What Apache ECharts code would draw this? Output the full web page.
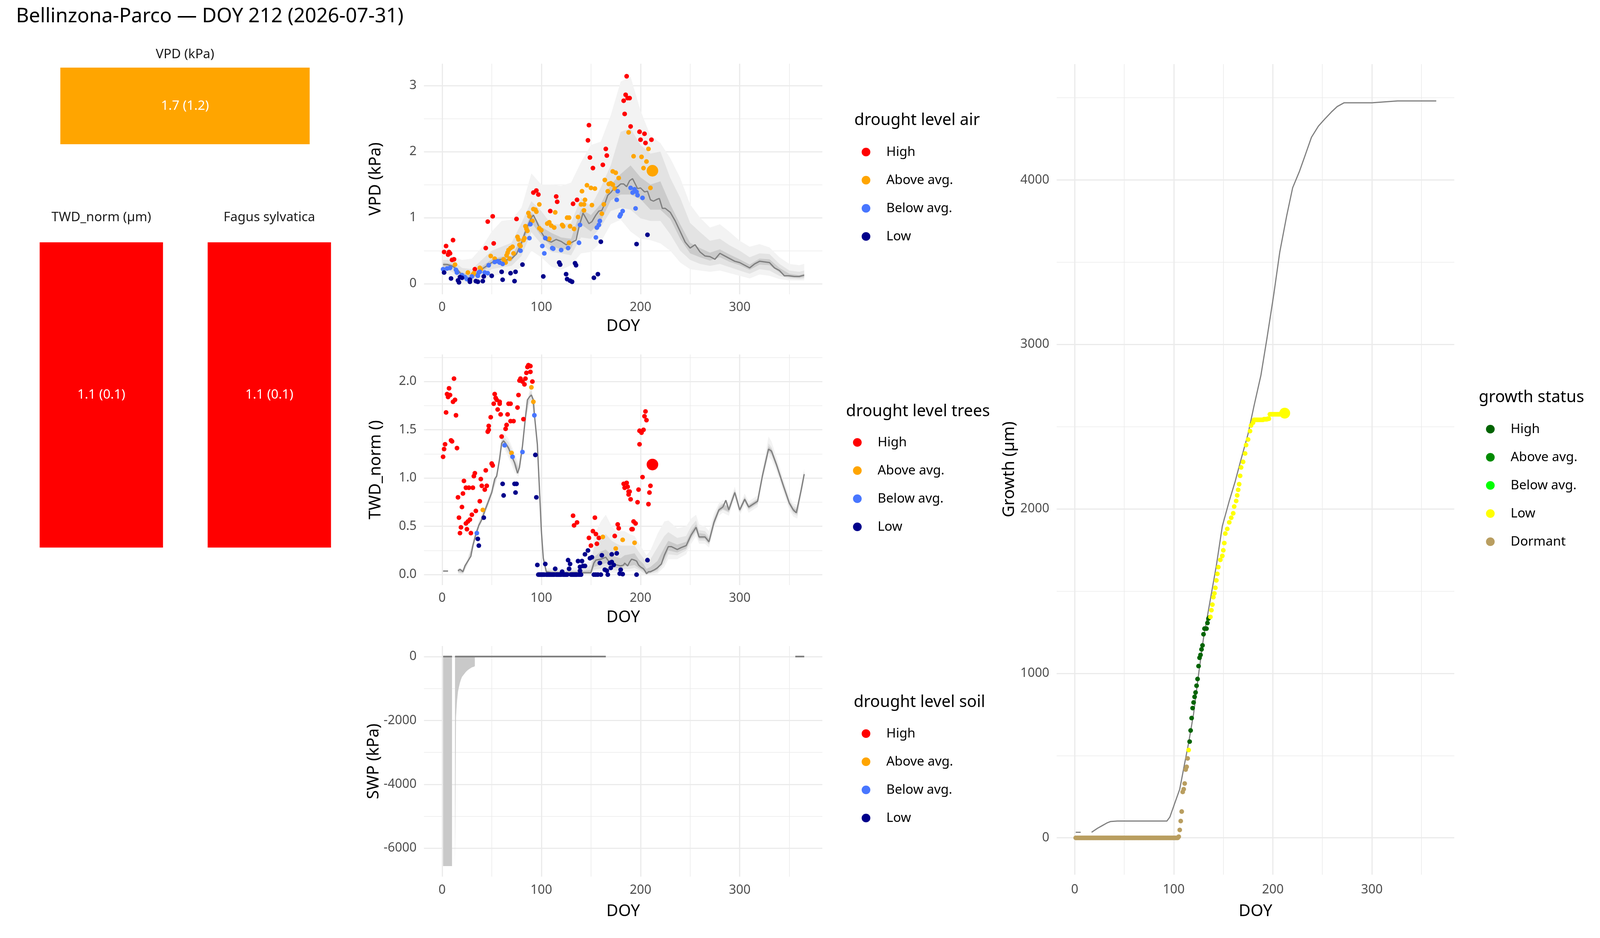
<!DOCTYPE html>
<html>
<head>
<meta charset="utf-8">
<title>Bellinzona-Parco drought monitor</title>
<script src="https://cdn.jsdelivr.net/npm/echarts@6.0.0/dist/echarts.min.js"></script>
<style>
html, body { margin: 0; padding: 0; background: #fff; overflow: hidden; }
#main { width: 100vw; height: 100vh; }
</style>
</head>
<body>
<div id="main"></div>
<script>
// ---------------- data ----------------
var mainTitle = 'Bellinzona-Parco \u2014 DOY 212 (2026-07-31)';

var levelNames = ['High', 'Above avg.', 'Below avg.', 'Low'];
var levelColors = ['#FF0000', '#FFA500', '#4876FF', '#00008B'];
var growthNames = ['High', 'Above avg.', 'Below avg.', 'Low', 'Dormant'];
var growthColors = ['#006400', '#008B00', '#00FF00', '#FFFF00', '#B99E60'];

// summary tiles (left)
var tileTitles = ['VPD (kPa)', 'TWD_norm (\u00b5m)', 'Fagus sylvatica'];
var tileTexts = ['1.7 (1.2)', '1.1 (0.1)', '1.1 (0.1)'];
var tileLevels = ['Above avg.', 'High', 'High'];

// VPD climatology: median line
var vpdLineDoy = [1,5,10,15,20,25,30,35,40,45,50,55,60,65,70,75,80,85,90,92,95,100,105,110,115,120,125,130,135,138,142,145,148,151,155,158,161,164,167,170,173,177,180,183,186,189,192,195,197,200,204,207,210,213,217,219,222,225,230,235,240,245,250,255,260,265,270,275,280,285,290,295,300,305,310,315,320,325,330,335,340,345,350,355,360,365];
var vpdLineVal = [0.29,0.29,0.27,0.22,0.13,0.08,0.10,0.15,0.22,0.27,0.32,0.36,0.37,0.36,0.38,0.45,0.62,0.83,1.00,1.04,0.95,0.78,0.66,0.63,0.67,0.64,0.59,0.62,0.66,0.86,1.07,0.99,0.91,0.94,1.04,1.10,1.11,1.21,1.34,1.38,1.44,1.47,1.51,1.51,1.47,1.56,1.59,1.50,1.44,1.45,1.39,1.40,1.27,1.25,1.28,1.29,1.14,1.14,1.08,0.95,0.79,0.63,0.54,0.59,0.48,0.42,0.41,0.37,0.46,0.42,0.38,0.34,0.32,0.28,0.24,0.30,0.34,0.33,0.32,0.24,0.20,0.12,0.12,0.11,0.11,0.13];

// VPD climatology: quantile bands
var vpdBandDoy = [1,10,20,30,40,50,60,70,80,90,100,110,120,130,140,150,160,170,180,190,200,210,220,230,240,250,260,270,280,290,300,310,320,330,340,350,360,365];
var vpdOuterLo = [0.16,0.12,0.01,0.00,0.03,0.12,0.14,0.17,0.25,0.50,0.40,0.26,0.21,0.28,0.46,0.48,0.63,0.90,0.97,0.79,0.68,0.66,0.61,0.50,0.32,0.22,0.20,0.18,0.20,0.16,0.12,0.08,0.14,0.12,0.07,0.05,0.05,0.05];
var vpdOuterHi = [0.42,0.42,0.36,0.38,0.55,0.79,0.95,0.97,1.15,1.67,1.50,1.50,1.48,1.53,1.84,2.10,2.15,2.55,3.06,3.13,2.62,2.24,2.13,1.90,1.60,1.20,1.00,0.85,0.90,0.78,0.65,0.56,0.60,0.55,0.40,0.30,0.28,0.30];
var vpdMidLo = [0.22,0.18,0.05,0.03,0.10,0.22,0.25,0.27,0.42,0.78,0.60,0.48,0.46,0.43,0.70,0.68,0.86,1.10,1.15,1.12,0.99,0.95,0.95,0.75,0.50,0.36,0.30,0.27,0.30,0.25,0.20,0.15,0.22,0.20,0.12,0.08,0.07,0.08];
var vpdMidHi = [0.36,0.36,0.24,0.22,0.36,0.50,0.56,0.62,0.92,1.25,1.10,0.90,0.90,0.92,1.30,1.17,1.46,1.79,2.30,2.35,2.10,1.97,2.00,1.60,1.30,0.92,0.78,0.65,0.68,0.58,0.50,0.40,0.46,0.45,0.30,0.20,0.18,0.20];
var vpdInnerLo = [0.26,0.24,0.10,0.07,0.18,0.29,0.33,0.34,0.56,0.93,0.72,0.57,0.52,0.53,0.90,0.79,0.95,1.26,1.35,1.35,1.28,1.12,1.12,0.98,0.68,0.46,0.40,0.35,0.40,0.33,0.28,0.21,0.29,0.28,0.17,0.10,0.09,0.10];
var vpdInnerHi = [0.32,0.30,0.17,0.14,0.26,0.37,0.41,0.42,0.68,1.08,0.86,0.77,0.70,0.68,1.13,1.04,1.21,1.50,1.66,1.79,1.61,1.50,1.55,1.20,0.90,0.62,0.54,0.47,0.52,0.44,0.37,0.29,0.38,0.37,0.24,0.15,0.13,0.15];

// VPD observations this year, [DOY, kPa] per drought level
var vpdHigh = [[2,0.48],[4,0.57],[6,0.44],[7,0.48],[8,0.46],[10,0.36],[11,0.66],[12,0.37],[33,0.22],[44,0.54],[46,0.94],[51,1.02],[52,0.61],[75,0.98],[92,1.38],[95,1.41],[97,1.35],[109,1.10],[115,1.32],[116,1.24],[132,1.21],[136,1.27],[147,2.17],[148,2.40],[149,1.91],[152,1.75],[162,1.80],[165,2.04],[166,1.94],[183,2.77],[184,2.57],[185,2.86],[186,3.14],[187,2.81],[189,2.81],[190,2.38],[199,2.30],[200,2.18],[204,2.27],[205,2.13],[211,2.18]];
var vpdAbove = [[13,0.29],[26,0.17],[31,0.14],[32,0.16],[38,0.24],[39,0.22],[49,0.42],[53,0.38],[62,0.37],[63,0.34],[64,0.32],[65,0.43],[66,0.47],[67,0.51],[68,0.38],[69,0.54],[71,0.56],[72,0.46],[76,0.71],[77,0.67],[78,0.59],[79,0.57],[82,0.66],[83,0.69],[84,0.87],[85,0.83],[86,0.80],[87,1.07],[88,1.02],[91,0.95],[92,1.13],[94,1.12],[95,1.09],[98,1.20],[98,0.84],[100,0.81],[106,0.91],[108,0.93],[108,0.68],[110,0.88],[113,0.85],[114,1.08],[121,0.89],[122,0.87],[126,1.00],[128,1.00],[129,0.87],[133,0.83],[128,0.62],[137,1.01],[140,1.20],[141,1.40],[143,1.20],[143,1.11],[144,1.27],[146,1.49],[150,1.45],[151,1.19],[154,1.44],[161,1.06],[163,1.20],[164,1.57],[167,1.40],[168,1.51],[170,1.52],[172,1.50],[172,1.70],[174,1.44],[175,1.68],[178,1.60],[188,2.29],[193,1.93],[201,1.92],[203,1.75],[206,1.85],[208,2.04],[210,1.45]];
var vpdBelow = [[1,0.22],[5,0.23],[8,0.24],[14,0.21],[15,0.17],[20,0.13],[23,0.10],[25,0.07],[30,0.11],[36,0.12],[37,0.17],[38,0.18],[43,0.17],[46,0.16],[47,0.28],[53,0.33],[56,0.34],[58,0.32],[61,0.30],[79,0.50],[88,0.69],[89,0.90],[101,0.57],[103,0.46],[104,0.69],[111,0.54],[112,0.53],[120,0.51],[127,0.54],[138,0.62],[139,0.89],[155,0.70],[156,0.85],[158,0.89],[159,0.95],[176,1.27],[177,1.40],[179,1.02],[180,1.05],[182,1.10],[190,1.45],[192,1.38],[194,1.43],[195,1.14],[196,1.39],[197,1.34],[202,1.30]];
var vpdLow = [[2,0.17],[9,0.08],[16,0.05],[17,0.02],[18,0.10],[20,0.09],[28,0.03],[28,0.06],[34,0.04],[36,0.03],[41,0.04],[42,0.11],[50,0.12],[60,0.18],[61,0.06],[69,0.16],[73,0.04],[74,0.18],[81,0.29],[102,0.11],[118,0.32],[119,0.29],[125,0.145],[126,0.07],[129,0.045],[131,0.03],[134,0.31],[135,0.28],[153,0.09],[157,0.145],[160,0.635],[196,0.60],[207,0.74]];
var vpdToday = [[212,1.71]];

// TWD_norm climatology: median line (null = no data)
var twdLineDoy = [1,6,10,16,18,21,23,26,29,31,34,37,40,43,46,50,53,55,58,60,62,64,67,70,73,76,78,81,84,86,88,90,92,93,96,98,100,102,105,110,120,130,140,150,153,155,160,165,167,171,176,180,183,184,187,189,191,194,196,198,200,203,205,206,208,210,214,217,221,224,228,231,237,241,246,251,256,259,265,269,274,279,283,286,289,295,300,305,309,312,318,323,329,332,337,344,350,354,357,362,365];
var twdLineVal = [0.037,0.037,null,0.04,0.055,0.03,0.09,0.14,0.19,0.30,0.42,0.51,0.57,0.66,0.74,0.85,0.99,1.02,1.20,1.36,1.385,1.36,1.31,1.23,1.16,1.05,1.11,1.33,1.63,1.81,1.84,1.86,1.81,1.66,1.35,0.91,0.46,0.17,0.03,0.02,0.02,0.02,0.02,0.02,0.12,0.15,0.16,0.18,0.15,0.11,0.10,0.09,0.10,0.12,0.09,0.13,0.16,0.15,0.14,0.10,0.08,0.06,0.03,0.01,0.03,0.03,0.05,0.07,0.11,0.20,0.29,0.29,0.26,0.28,0.30,0.41,0.49,0.39,0.39,0.34,0.54,0.67,0.70,0.77,0.67,0.85,0.67,0.78,0.70,0.72,0.76,1.03,1.30,1.28,1.14,0.92,0.74,0.67,0.64,0.88,1.04];

// TWD_norm climatology: quantile bands
var twdBandDoy = [16,21,26,31,37,43,50,55,60,62,67,73,77,81,84,88,90,93,96,98,100,102,105,120,140,150,153,160,165,171,176,180,184,189,194,198,203,206,210,217,224,228,237,246,251,256,259,265,269,274,279,283,289,295,300,305,309,318,323,329,332,337,344,350,354,358,362,365];
var twdOuterLo = [.01,0,.10,.25,.46,.61,.80,.97,1.29,1.31,1.21,1.06,1.01,1.27,1.57,1.77,1.78,1.59,1.29,.86,.41,.13,0,0,0,0,.02,.02,.03,.02,.02,.02,.03,.03,.04,.02,0,0,0,.01,.08,.16,.16,.21,.32,.40,.32,.32,.28,.47,.61,.64,.61,.79,.61,.72,.64,.70,.97,1.22,1.19,1.07,.85,.67,.60,.58,.82,.98];
var twdOuterHi = [.07,.06,.18,.35,.56,.71,.90,1.07,1.43,1.47,1.41,1.26,1.15,1.39,1.69,1.91,1.95,1.73,1.41,.96,.51,.21,.07,.06,.08,.16,.40,.55,.62,.50,.44,.45,.45,.42,.40,.33,.25,.20,.25,.42,.55,.56,.48,.50,.58,.62,.52,.50,.45,.63,.74,.77,.74,.91,.73,.84,.76,.82,1.09,1.43,1.38,1.22,.99,.81,.74,.72,.94,1.10];
var twdMidLo = [.02,.01,.12,.27,.48,.63,.82,.99,1.32,1.34,1.25,1.10,1.04,1.30,1.60,1.80,1.81,1.62,1.32,.88,.43,.15,.01,.01,.005,.005,.05,.06,.07,.05,.04,.04,.06,.06,.07,.05,.02,0,.01,.03,.12,.21,.20,.25,.36,.44,.35,.35,.31,.50,.64,.67,.64,.82,.64,.75,.67,.73,1.00,1.26,1.23,1.10,.88,.70,.63,.61,.85,1.01];
var twdMidHi = [.06,.05,.16,.33,.54,.69,.88,1.05,1.40,1.43,1.37,1.22,1.12,1.36,1.66,1.88,1.91,1.70,1.38,.94,.49,.19,.05,.04,.05,.10,.28,.38,.42,.35,.32,.30,.30,.30,.30,.24,.17,.12,.16,.28,.40,.44,.38,.40,.50,.56,.46,.45,.40,.59,.71,.74,.71,.88,.70,.81,.73,.79,1.06,1.36,1.32,1.18,.96,.78,.71,.69,.91,1.07];
var twdInnerLo = [.03,.02,.13,.29,.50,.65,.84,1.01,1.34,1.37,1.29,1.14,1.06,1.32,1.62,1.83,1.85,1.65,1.34,.90,.45,.16,.02,.015,.01,.01,.08,.10,.12,.08,.07,.06,.09,.09,.10,.07,.04,.005,.02,.05,.16,.25,.23,.27,.38,.46,.37,.37,.32,.52,.65,.68,.65,.83,.65,.76,.68,.74,1.01,1.28,1.25,1.12,.90,.72,.65,.63,.86,1.02];
var twdInnerHi = [.05,.04,.15,.31,.52,.67,.86,1.03,1.38,1.40,1.33,1.18,1.10,1.34,1.64,1.85,1.88,1.67,1.36,.92,.47,.18,.04,.03,.035,.05,.18,.24,.26,.20,.18,.17,.20,.21,.22,.16,.11,.06,.08,.14,.28,.35,.31,.34,.45,.52,.43,.42,.37,.57,.69,.73,.70,.87,.69,.80,.72,.78,1.05,1.33,1.30,1.16,.94,.76,.69,.67,.90,1.06];

// TWD_norm observations this year, [DOY, value] per drought level
var twdHigh = [[1,1.22],[2,1.30],[3,1.35],[4,1.68],[5,1.87],[6,1.84],[7,1.93],[8,1.86],[9,1.39],[10,1.38],[11,1.79],[12,2.03],[13,1.81],[14,1.65],[15,1.31],[16,0.80],[17,0.59],[18,0.43],[19,0.49],[20,0.70],[21,0.84],[22,0.97],[24,0.90],[24,0.53],[25,0.47],[26,0.55],[27,0.90],[28,0.57],[29,0.43],[30,0.62],[31,0.90],[32,1.02],[33,1.05],[34,0.66],[38,0.76],[39,0.99],[40,0.92],[43,0.88],[44,1.08],[45,0.92],[46,1.48],[47,1.54],[47,1.50],[49,1.63],[50,1.15],[51,1.13],[52,1.77],[53,1.87],[54,1.83],[55,1.81],[56,1.71],[58,1.79],[58,1.77],[59,1.66],[60,1.43],[64,1.51],[65,1.55],[66,1.66],[67,1.77],[69,1.77],[69,1.59],[72,1.59],[76,1.73],[77,1.86],[78,2.01],[79,2.03],[81,2.00],[82,1.61],[83,1.97],[84,2.03],[85,2.09],[86,2.15],[87,2.17],[89,2.16],[89,2.10],[91,2.00],[132,0.61],[133,0.51],[136,0.54],[148,0.38],[150,0.30],[152,0.45],[154,0.59],[155,0.42],[156,0.32],[158,0.38],[174,0.40],[177,0.52],[178,0.48],[183,0.94],[184,0.90],[186,0.95],[187,0.91],[188,0.83],[188,0.86],[189,0.86],[190,0.78],[191,0.47],[192,0.47],[193,0.55],[195,0.53],[197,0.75],[198,0.88],[199,1.35],[199,1.49],[201,1.47],[202,1.01],[203,1.50],[204,1.64],[205,1.69],[206,1.60],[208,0.73],[209,0.85],[210,0.92]];
var twdAbove = [[41,0.67],[70,1.26],[90,1.94],[92,1.79],[162,0.39],[175,0.27],[182,0.36],[194,0.33]];
var twdBelow = [[35,0.43],[63,1.34],[71,1.22],[81,1.27],[93,1.65]];
var twdLow = [[36,0.37],[37,0.30],[42,0.59],[61,0.94],[62,0.82],[73,0.94],[74,0.85],[75,0.94],[94,1.24],[95,0.80],[96,0.10],
  [97,0],[98,0],[99,0],[100,0],[101,0],[102,0],[103,0],[104,0.11],[105,0],[106,0],[107,0],[108,0],[109,0],[110,0],[111,0],[112,0],[113,0],[114,0.06],[115,0],[116,0],[117,0],[118,0],[119,0],[120,0],
  [121,0.03],[122,0],[123,0],[124,0],[125,0],[126,0],[127,0.15],[128,0.06],[129,0.11],[130,0],[131,0],[132,0],[133,0],[134,0],[135,0],[136,0],[137,0.14],[138,0],[139,0.04],[139,0.08],[140,0],
  [141,0.14],[142,0.09],[144,0.09],[144,0.21],[147,0.25],[149,0.17],[151,0.18],[153,0],[155,0],[157,0],[159,0.12],[160,0],[161,0.20],[164,0.05],[166,0.04],[167,0],[169,0.12],[170,0.07],[171,0.13],[171,0.21],[173,0.10],[176,0.22],[179,0.01],[180,0.05],[182,0.005],[196,0],[207,0.15]];
var twdToday = [[212,1.14]];

// SWP: band (down from 0) and median line
var swpAreaDoy = [1,10,11,13,14,15,16,17,18,19,20,22,24,26,28,30,32,33];
var swpAreaVal = [-6560,-6560,null,-6500,-1900,-1400,-1100,-950,-820,-720,-640,-560,-480,-420,-380,-340,-320,-300];
var swpLineDoy = [1,10,11,13,165,200,356,365];
var swpLineVal = [0,0,null,0,0,null,0,0];

// Growth: climatology line and this year's cumulative growth
var growthLineDoy = [1,6,10,17,23,28,33,36,43,93,96,101,106,110,115,120,125,130,136,143,149,156,162,168,175,181,188,194,201,207,214,220,227,233,239,246,252,259,265,272,278,300,326,365];
var growthLineVal = [34,34,null,34,58,75,92,99,102,102,126,211,296,422,578,755,993,1214,1418,1656,1895,2048,2167,2303,2456,2626,2813,3034,3306,3561,3782,3952,4054,4156,4259,4327,4367,4412,4446,4469,4469,4469,4480,4480];
var growthDormant = [[1,0],[2,0],[3,0],[4,0],[5,0],[6,0],[7,0],[8,0],[9,0],[10,0],[11,0],[12,0],[13,0],[14,0],[15,0],[16,0],[17,0],[18,0],[19,0],[20,0],
  [21,0],[22,0],[23,0],[24,0],[25,0],[26,0],[27,0],[28,0],[29,0],[30,0],[31,0],[32,0],[33,0],[34,0],[35,0],[36,0],[37,0],[38,0],[39,0],[40,0],
  [41,0],[42,0],[43,0],[44,0],[45,0],[46,0],[47,0],[48,0],[49,0],[50,0],[51,0],[52,0],[53,0],[54,0],[55,0],[56,0],[57,0],[58,0],[59,0],[60,0],
  [61,0],[62,0],[63,0],[64,0],[65,0],[66,0],[67,0],[68,0],[69,0],[70,0],[71,0],[72,0],[73,0],[74,0],[75,0],[76,0],[77,0],[78,0],[79,0],[80,0],
  [81,0],[82,0],[83,0],[84,0],[85,0],[86,0],[87,0],[88,0],[89,0],[90,0],[91,0],[92,0],[93,0],[94,0],[95,0],[96,0],[97,0],[98,0],[99,0],[100,0],
  [101,0],[102,0],[103,0],[104,0],[105,7],[106,48],[107,102],[108,160],[109,279],[110,296],[111,330],[112,415],[113,432],[114,483]];
var growthHigh = [[116,585],[117,653],[118,728],[119,789],[120,823],[121,857],[122,884],[123,925],[124,966],[125,1044],[126,1095],[127,1112],[128,1146],[129,1170],[130,1238],[131,1272],[133,1272],[134,1306],[135,1333],[136,1340]];
var growthLow = [[115,534],[137,1343],[138,1384],[139,1418],[140,1463],[141,1486],[142,1520],[143,1565],[144,1605],[145,1646],[147,1690],[149,1714],[150,1748],[151,1792],[152,1850],[154,1878],[156,1918],[158,1946],[160,1973],[161,2014],[163,2048],[164,2082],[165,2116],[166,2150],[167,2201],[168,2252],[170,2286],[172,2337],[173,2388],[175,2422],[177,2473],[178,2507],[180,2524],[181,2541],[182,2541],[183,2541],[184,2541],[185,2541],[186,2541],[187,2541],[188,2541],[189,2541],[190,2541],[191,2545],[192,2545],[193,2545],[194,2545],[195,2548],[196,2548],[197,2575],[198,2575],[199,2575],[200,2575],[201,2575],[202,2575],[203,2575],[204,2575],[205,2575],[206,2575],[207,2575],[208,2578],[209,2578],[210,2578],[211,2580]];
var growthToday = [[212,2582]];

// ---------------- layout ----------------
// positions below are measured on a 4800x2400 figure; X/Y map them onto
// whatever the window is, F scales font and mark sizes
var dom = document.getElementById('main');
var W = window.innerWidth || 4800;
var H = window.innerHeight || 2400;
dom.style.width = W + 'px';
dom.style.height = H + 'px';
var sx = W / 4800, sy = H / 2400;
var fs = (sx + sy) / 2;
function X(v) { return v * sx; }
function Y(v) { return v * sy; }
function F(v) { return v * fs; }

var FONT = 'Noto Sans';
var GRID_COLOR = '#ebebeb';
var LINE_COLOR = '#7f7f7f';
var AXIS_TITLE = F(45);
var TICK = F(35);
var SMALL = F(36);

// ---------------- helpers ----------------
function levelColor(name) {
	return levelColors[levelNames.indexOf(name)];
}

function pairs(xs, ys) {
	var out = [];
	for(var i = 0; i < xs.length; i++) {
		out.push([xs[i], ys[i] == null ? '-' : ys[i]]);
	}
	return out;
}

// only label the ticks that sit on a multiple of step (hides axis-edge ticks)
function tickFormatter(step, digits) {
	return function(v) {
		var r = v / step;
		if(Math.abs(r - Math.round(r)) > 1e-6) return '';
		return digits ? v.toFixed(digits) : String(Math.round(v));
	};
}

function bandSeries(axis, xs, lo, hi, color) {
	var rows = [];
	for(var i = 0; i < xs.length; i++) rows.push([xs[i], lo[i], hi[i]]);
	return {
		type: 'custom',
		xAxisIndex: axis,
		yAxisIndex: axis,
		silent: true,
		z: 1,
		data: rows,
		renderItem: function(params, api) {
			if(params.dataIndex !== 0) return null;
			var pts = [];
			for(var j = 0; j < xs.length; j++) pts.push(api.coord([xs[j], hi[j]]));
			for(var k = xs.length - 1; k >= 0; k--) pts.push(api.coord([xs[k], lo[k]]));
			return { type: 'polygon', shape: { points: pts }, style: { fill: color } };
		}
	};
}

function lineSeries(axis, xs, ys, width) {
	return {
		type: 'line',
		xAxisIndex: axis,
		yAxisIndex: axis,
		data: pairs(xs, ys),
		symbol: 'none',
		showSymbol: false,
		connectNulls: false,
		silent: true,
		z: 3,
		lineStyle: { color: LINE_COLOR, width: F(width) }
	};
}

function dotSeries(axis, name, data, color, size, z) {
	return {
		type: 'scatter',
		name: name,
		xAxisIndex: axis,
		yAxisIndex: axis,
		data: data,
		symbol: 'circle',
		symbolSize: F(size),
		silent: true,
		z: z,
		itemStyle: { color: color, opacity: 1, borderWidth: 0 }
	};
}

// labelCenter / nameCenter: distance below the panel of tick labels and title
function doyAxis(gridIndex, labelCenter, nameCenter) {
	return {
		type: 'value',
		gridIndex: gridIndex,
		min: -18.25,
		max: 383.25,
		splitNumber: 5,
		name: 'DOY',
		nameLocation: 'middle',
		nameGap: Y(nameCenter) - AXIS_TITLE / 2,
		nameTextStyle: { fontSize: AXIS_TITLE, color: '#000', fontFamily: FONT },
		axisLine: { show: false },
		axisTick: { show: false },
		axisLabel: { fontSize: TICK, color: '#4d4d4d', margin: Y(labelCenter) - TICK / 2, fontFamily: FONT, formatter: tickFormatter(100, 0) },
		splitLine: { show: true, showMinLine: false, showMaxLine: false, lineStyle: { color: GRID_COLOR, width: F(3.4) } },
		minorTick: { show: false, splitNumber: 2 },
		minorSplitLine: { show: true, lineStyle: { color: GRID_COLOR, width: F(1.7) } }
	};
}

// nameCenter: distance left of the panel to the centre of the axis title
function valueAxis(gridIndex, name, min, max, splitNumber, step, digits, nameCenter) {
	return {
		type: 'value',
		gridIndex: gridIndex,
		min: min,
		max: max,
		splitNumber: splitNumber,
		name: name,
		nameLocation: 'middle',
		nameGap: X(nameCenter) - AXIS_TITLE / 2,
		nameTextStyle: { fontSize: AXIS_TITLE, color: '#000', fontFamily: FONT },
		axisLine: { show: false },
		axisTick: { show: false },
		axisLabel: { fontSize: TICK, color: '#4d4d4d', margin: X(22), fontFamily: FONT, formatter: tickFormatter(step, digits) },
		splitLine: { show: true, showMinLine: false, showMaxLine: false, lineStyle: { color: GRID_COLOR, width: F(3.4) } },
		minorTick: { show: false, splitNumber: 2 },
		minorSplitLine: { show: true, lineStyle: { color: GRID_COLOR, width: F(1.7) } }
	};
}

function tileXAxis(gridIndex, title, labelCenter) {
	return {
		type: 'category',
		gridIndex: gridIndex,
		position: 'top',
		data: [title],
		axisLine: { show: false },
		axisTick: { show: false },
		splitLine: { show: false },
		axisLabel: { fontSize: SMALL, color: '#1a1a1a', margin: Y(labelCenter) - SMALL / 2, fontFamily: FONT }
	};
}

function tileYAxis(gridIndex) {
	return { type: 'value', gridIndex: gridIndex, min: 0, max: 1, show: false };
}

function tileSeries(i) {
	var axis = 4 + i;
	return {
		type: 'bar',
		xAxisIndex: axis,
		yAxisIndex: axis,
		barWidth: '100%',
		silent: true,
		data: [{
			value: 1,
			itemStyle: { color: levelColor(tileLevels[i]) },
			label: {
				show: true,
				position: 'inside',
				formatter: tileTexts[i],
				color: '#fff',
				fontSize: SMALL,
				fontFamily: FONT
			}
		}]
	};
}

// dotX / textX: centre of the key dots and left edge of the labels; firstY: centre of first row
function legendBlock(dotX, textX, firstY, names, colors) {
	var items = [];
	for(var i = 0; i < names.length; i++) {
		items.push({ name: names[i], icon: 'circle', itemStyle: { color: colors[i], borderWidth: 0 } });
	}
	var key = F(24);
	var rowH = SMALL;
	return {
		orient: 'vertical',
		left: X(dotX) - key / 2,
		top: Y(firstY) - rowH / 2,
		padding: 0,
		itemWidth: key,
		itemHeight: key,
		itemGap: Y(72) - rowH,
		selectedMode: false,
		data: items,
		textStyle: {
			fontSize: SMALL, color: '#000', fontFamily: FONT, lineHeight: rowH,
			padding: [0, 0, 0, Math.max(0, X(textX) - X(dotX) - key / 2 - 5)]
		}
	};
}

function titleBlock(text, left, centerY, size) {
	var f = F(size);
	return {
		text: text,
		left: X(left),
		top: Y(centerY) - f / 2,
		padding: 0,
		textStyle: { fontSize: f, lineHeight: f, fontWeight: 'normal', color: '#000', fontFamily: FONT }
	};
}

function gridBox(left, top, width, height) {
	return {
		left: X(left), top: Y(top), width: X(width), height: Y(height),
		containLabel: false, outerBoundsMode: 'none', show: false
	};
}

// ---------------- chart ----------------
var myChart = echarts.init(dom, null, { renderer: 'canvas' });

var series = [];
// VPD
series.push(bandSeries(0, vpdBandDoy, vpdOuterLo, vpdOuterHi, '#f3f3f3'));
series.push(bandSeries(0, vpdBandDoy, vpdMidLo, vpdMidHi, '#e3e3e3'));
series.push(bandSeries(0, vpdBandDoy, vpdInnerLo, vpdInnerHi, '#cbcbcb'));
series.push(lineSeries(0, vpdLineDoy, vpdLineVal, 3.5));
series.push(dotSeries(0, 'High', vpdHigh, levelColors[0], 13, 4));
series.push(dotSeries(0, 'Above avg.', vpdAbove, levelColors[1], 13, 4));
series.push(dotSeries(0, 'Below avg.', vpdBelow, levelColors[2], 13, 4));
series.push(dotSeries(0, 'Low', vpdLow, levelColors[3], 13, 4));
series.push(dotSeries(0, 'Above avg.', vpdToday, levelColors[1], 32, 5));
// TWD_norm
series.push(bandSeries(1, twdBandDoy, twdOuterLo, twdOuterHi, '#f3f3f3'));
series.push(bandSeries(1, twdBandDoy, twdMidLo, twdMidHi, '#e3e3e3'));
series.push(bandSeries(1, twdBandDoy, twdInnerLo, twdInnerHi, '#cbcbcb'));
series.push(lineSeries(1, twdLineDoy, twdLineVal, 3.5));
series.push(dotSeries(1, 'High', twdHigh, levelColors[0], 13, 4));
series.push(dotSeries(1, 'Above avg.', twdAbove, levelColors[1], 13, 4));
series.push(dotSeries(1, 'Below avg.', twdBelow, levelColors[2], 13, 4));
series.push(dotSeries(1, 'Low', twdLow, levelColors[3], 13, 4));
series.push(dotSeries(1, 'High', twdToday, levelColors[0], 32, 5));
// SWP
series.push({
	type: 'line',
	xAxisIndex: 2,
	yAxisIndex: 2,
	data: pairs(swpAreaDoy, swpAreaVal),
	symbol: 'none',
	showSymbol: false,
	connectNulls: false,
	silent: true,
	z: 1,
	lineStyle: { width: 0, opacity: 0 },
	areaStyle: { color: '#c9c9c9', opacity: 1 }
});
series.push(lineSeries(2, swpLineDoy, swpLineVal, 4.5));
// growth
series.push(lineSeries(3, growthLineDoy, growthLineVal, 3.2));
series.push(dotSeries(3, 'Dormant', growthDormant, growthColors[4], 13, 4));
series.push(dotSeries(3, 'High', growthHigh, growthColors[0], 13, 4));
series.push(dotSeries(3, 'Low', growthLow, growthColors[3], 13, 4));
series.push(dotSeries(3, 'Low', growthToday, growthColors[3], 30, 5));
// tiles
for(var t = 0; t < tileTitles.length; t++) series.push(tileSeries(t));

var option = {
	animation: false,
	backgroundColor: '#ffffff',
	textStyle: { fontFamily: FONT },
	title: [
		titleBlock(mainTitle, 48, 42.5, 55),
		titleBlock('drought level air', 2563, 308, 45),
		titleBlock('drought level trees', 2538, 1053, 45),
		titleBlock('drought level soil', 2561, 1797, 45),
		titleBlock('growth status', 4436, 1017, 45)
	],
	legend: [
		legendBlock(2598, 2659, 389, levelNames, levelColors),
		legendBlock(2572, 2633, 1132, levelNames, levelColors),
		legendBlock(2598, 2659, 1877, levelNames, levelColors),
		legendBlock(4471, 4532, 1098, growthNames, growthColors)
	],
	grid: [
		gridBox(1272, 163, 1195, 590),   // VPD
		gridBox(1272, 907, 1195, 590),   // TWD_norm
		gridBox(1272, 1653, 1195, 590),  // SWP
		gridBox(3170, 164, 1193, 2074),  // growth
		gridBox(181, 173, 748, 196),     // tile VPD
		gridBox(119, 620, 370, 781),     // tile TWD
		gridBox(623, 620, 370, 781)      // tile Fagus
	],
	xAxis: [
		doyAxis(0, 34, 82), doyAxis(1, 34, 83), doyAxis(2, 35, 89), doyAxis(3, 39, 94),
		tileXAxis(4, tileTitles[0], 34),
		tileXAxis(5, tileTitles[1], 64),
		tileXAxis(6, tileTitles[2], 64)
	],
	yAxis: [
		valueAxis(0, 'VPD (kPa)', -0.16, 3.33, 3, 1, 0, 144),
		valueAxis(1, 'TWD_norm ()', -0.1085, 2.28, 5, 0.5, 1, 144),
		valueAxis(2, 'SWP (kPa)', -6890, 328, 4, 2000, 0, 144),
		valueAxis(3, 'Growth (\u00b5m)', -224, 4704, 5, 1000, 0, 142),
		tileYAxis(4), tileYAxis(5), tileYAxis(6)
	],
	series: series
};
myChart.setOption(option);
</script>
</body>
</html>
